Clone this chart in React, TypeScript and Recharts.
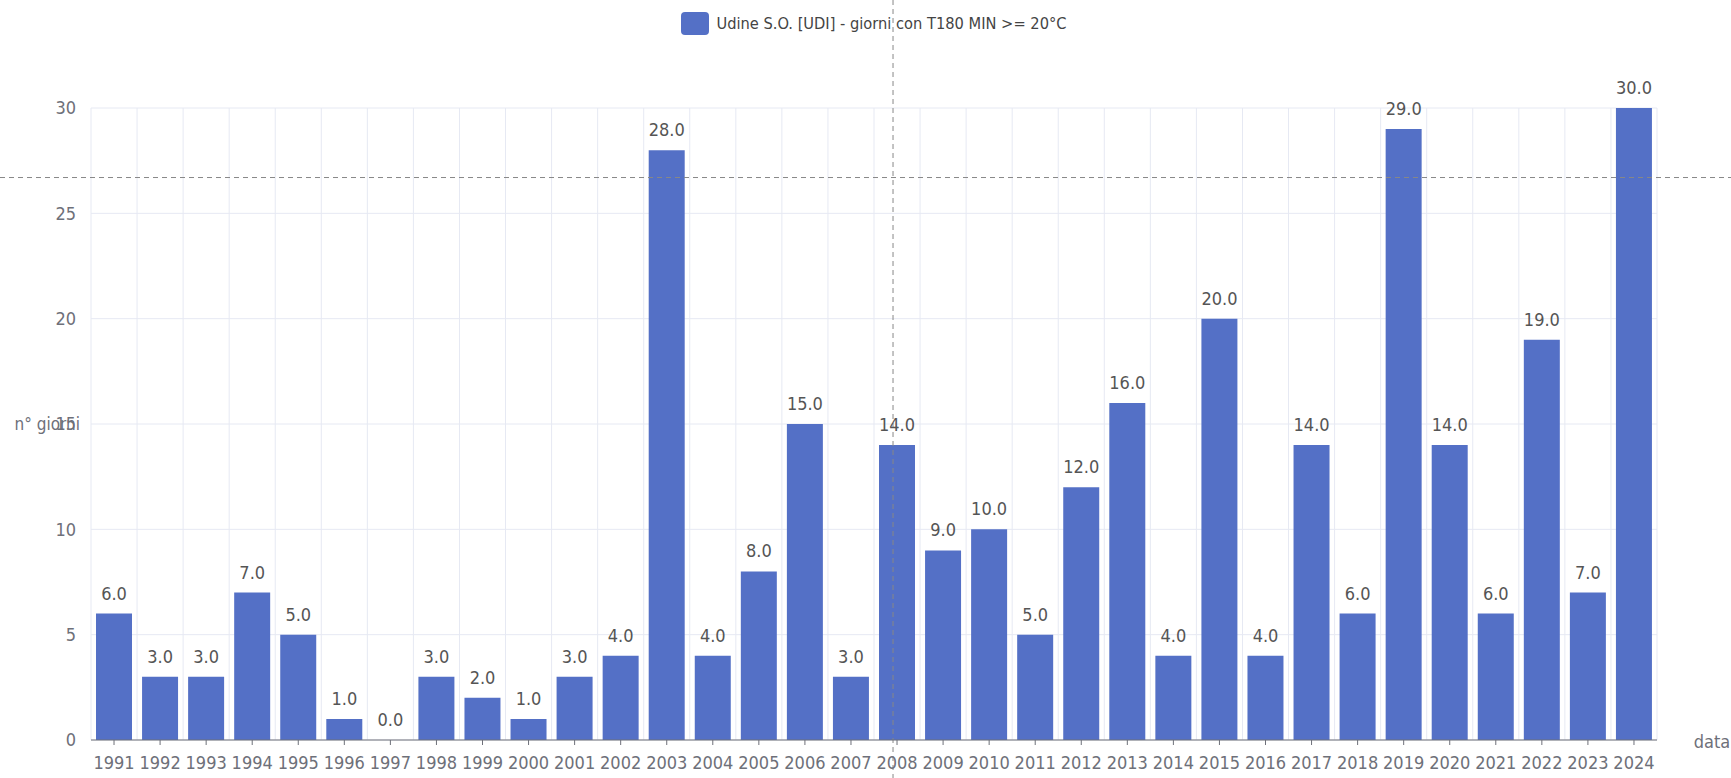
import { ComposedChart, Bar, Line, XAxis, YAxis, CartesianGrid, LabelList, ReferenceLine } from 'recharts';

const years = [
    '1991', '1992', '1993', '1994', '1995', '1996', '1997', '1998', '1999', '2000',
    '2001', '2002', '2003', '2004', '2005', '2006', '2007', '2008', '2009', '2010',
    '2011', '2012', '2013', '2014', '2015', '2016', '2017', '2018', '2019', '2020',
    '2021', '2022', '2023', '2024',
];
const giorni = [
    6, 3, 3, 7, 5, 1, 0, 3, 2, 1,
    3, 4, 28, 4, 8, 15, 3, 14, 9, 10,
    5, 12, 16, 4, 20, 4, 14, 6, 29, 14,
    6, 19, 7, 30,
];
const yTicks = [0, 5, 10, 15, 20, 25, 30];
const seriesName = 'Udine S.O. [UDI] - giorni con T180 MIN >= 20°C';
// crosshair left by the mouse in the original screenshot
const cursorYear = '2008';
const cursorValue = 26.7;

const data = years.map((year, i) => ({ year, giorni: giorni[i] }));

const W = 1731;
const H = 778;
const FONT = "'Liberation Sans Narrow', 'DejaVu Sans Condensed', sans-serif";
const BAR = '#5470C6';
const AXIS = '#6E7079';
const GRID = '#E6E9F3';

export default function App() {
    return (
        <div style={{ position: 'absolute', left: 0, top: 0, width: W, height: H, background: '#fff' }}>
            {/* legend */}
            <div
                style={{
                    position: 'absolute', top: 12, left: 0, width: W, zIndex: 1, boxSizing: 'border-box', paddingLeft: 17,
                    display: 'flex', justifyContent: 'center', alignItems: 'center', fontFamily: FONT,
                }}
            >
                <div style={{ width: 28, height: 23, borderRadius: 4, background: BAR, marginRight: 7 }} />
                <span style={{ fontSize: 16.3, color: '#444' }}>{seriesName}</span>
            </div>
            <ComposedChart
                width={W}
                height={H}
                data={data}
                margin={{ top: 108, right: 74, bottom: 0, left: 0 }}
                style={{ fontFamily: FONT }}
            >
                <CartesianGrid
                    stroke={GRID}
                    verticalCoordinatesGenerator={({ offset }: any) =>
                        years.map((_, i) => offset.left + (i * offset.width) / years.length).concat(offset.left + offset.width)
                    }
                />
                <XAxis
                    dataKey="year"
                    height={38}
                    interval={0}
                    stroke={AXIS}
                    tickSize={5}
                    tickMargin={11}
                    tick={{ fill: AXIS, fontSize: 18 }}
                    label={({ viewBox }: any) => (
                        <text x={viewBox.x + viewBox.width + 55} y={viewBox.y + 3} fill={AXIS} fontSize={18} dominantBaseline="middle" textAnchor="middle">
                            data
                        </text>
                    )}
                />
                <YAxis
                    width={91}
                    domain={[0, 30]}
                    ticks={yTicks}
                    axisLine={false}
                    tickLine={false}
                    tickMargin={9}
                    tick={{ fill: AXIS, fontSize: 18 }}
                    label={({ viewBox }: any) => (
                        <text x={viewBox.x + 80} y={viewBox.y + viewBox.height / 2 + 1} fill={AXIS} fontSize={17} dominantBaseline="middle" textAnchor="end">
                            n° giorni
                        </text>
                    )}
                />
                <Bar dataKey="giorni" fill={BAR} barSize={36} isAnimationActive={false} />
                {/* invisible line only to carry the value labels (also for the 0 bar) */}
                <Line dataKey="giorni" stroke="none" dot={false} activeDot={false} legendType="none" isAnimationActive={false}>
                    <LabelList
                        dataKey="giorni"
                        position="top"
                        offset={14}
                        fill="#555"
                        fontSize={18}
                        formatter={(v: any) => Number(v).toFixed(1)}
                    />
                </Line>
                <ReferenceLine
                    y={cursorValue}
                    shape={(p: any) => (
                        <line x1={0} x2={W} y1={p.y1} y2={p.y2} stroke="#888" strokeDasharray="5 4" strokeWidth={1} />
                    )}
                />
                <ReferenceLine
                    x={cursorYear}
                    shape={(p: any) => (
                        <line x1={p.x1 - 4} x2={p.x2 - 4} y1={0} y2={H} stroke="#888" strokeDasharray="5 4" strokeWidth={1} />
                    )}
                />
            </ComposedChart>
        </div>
    );
}
